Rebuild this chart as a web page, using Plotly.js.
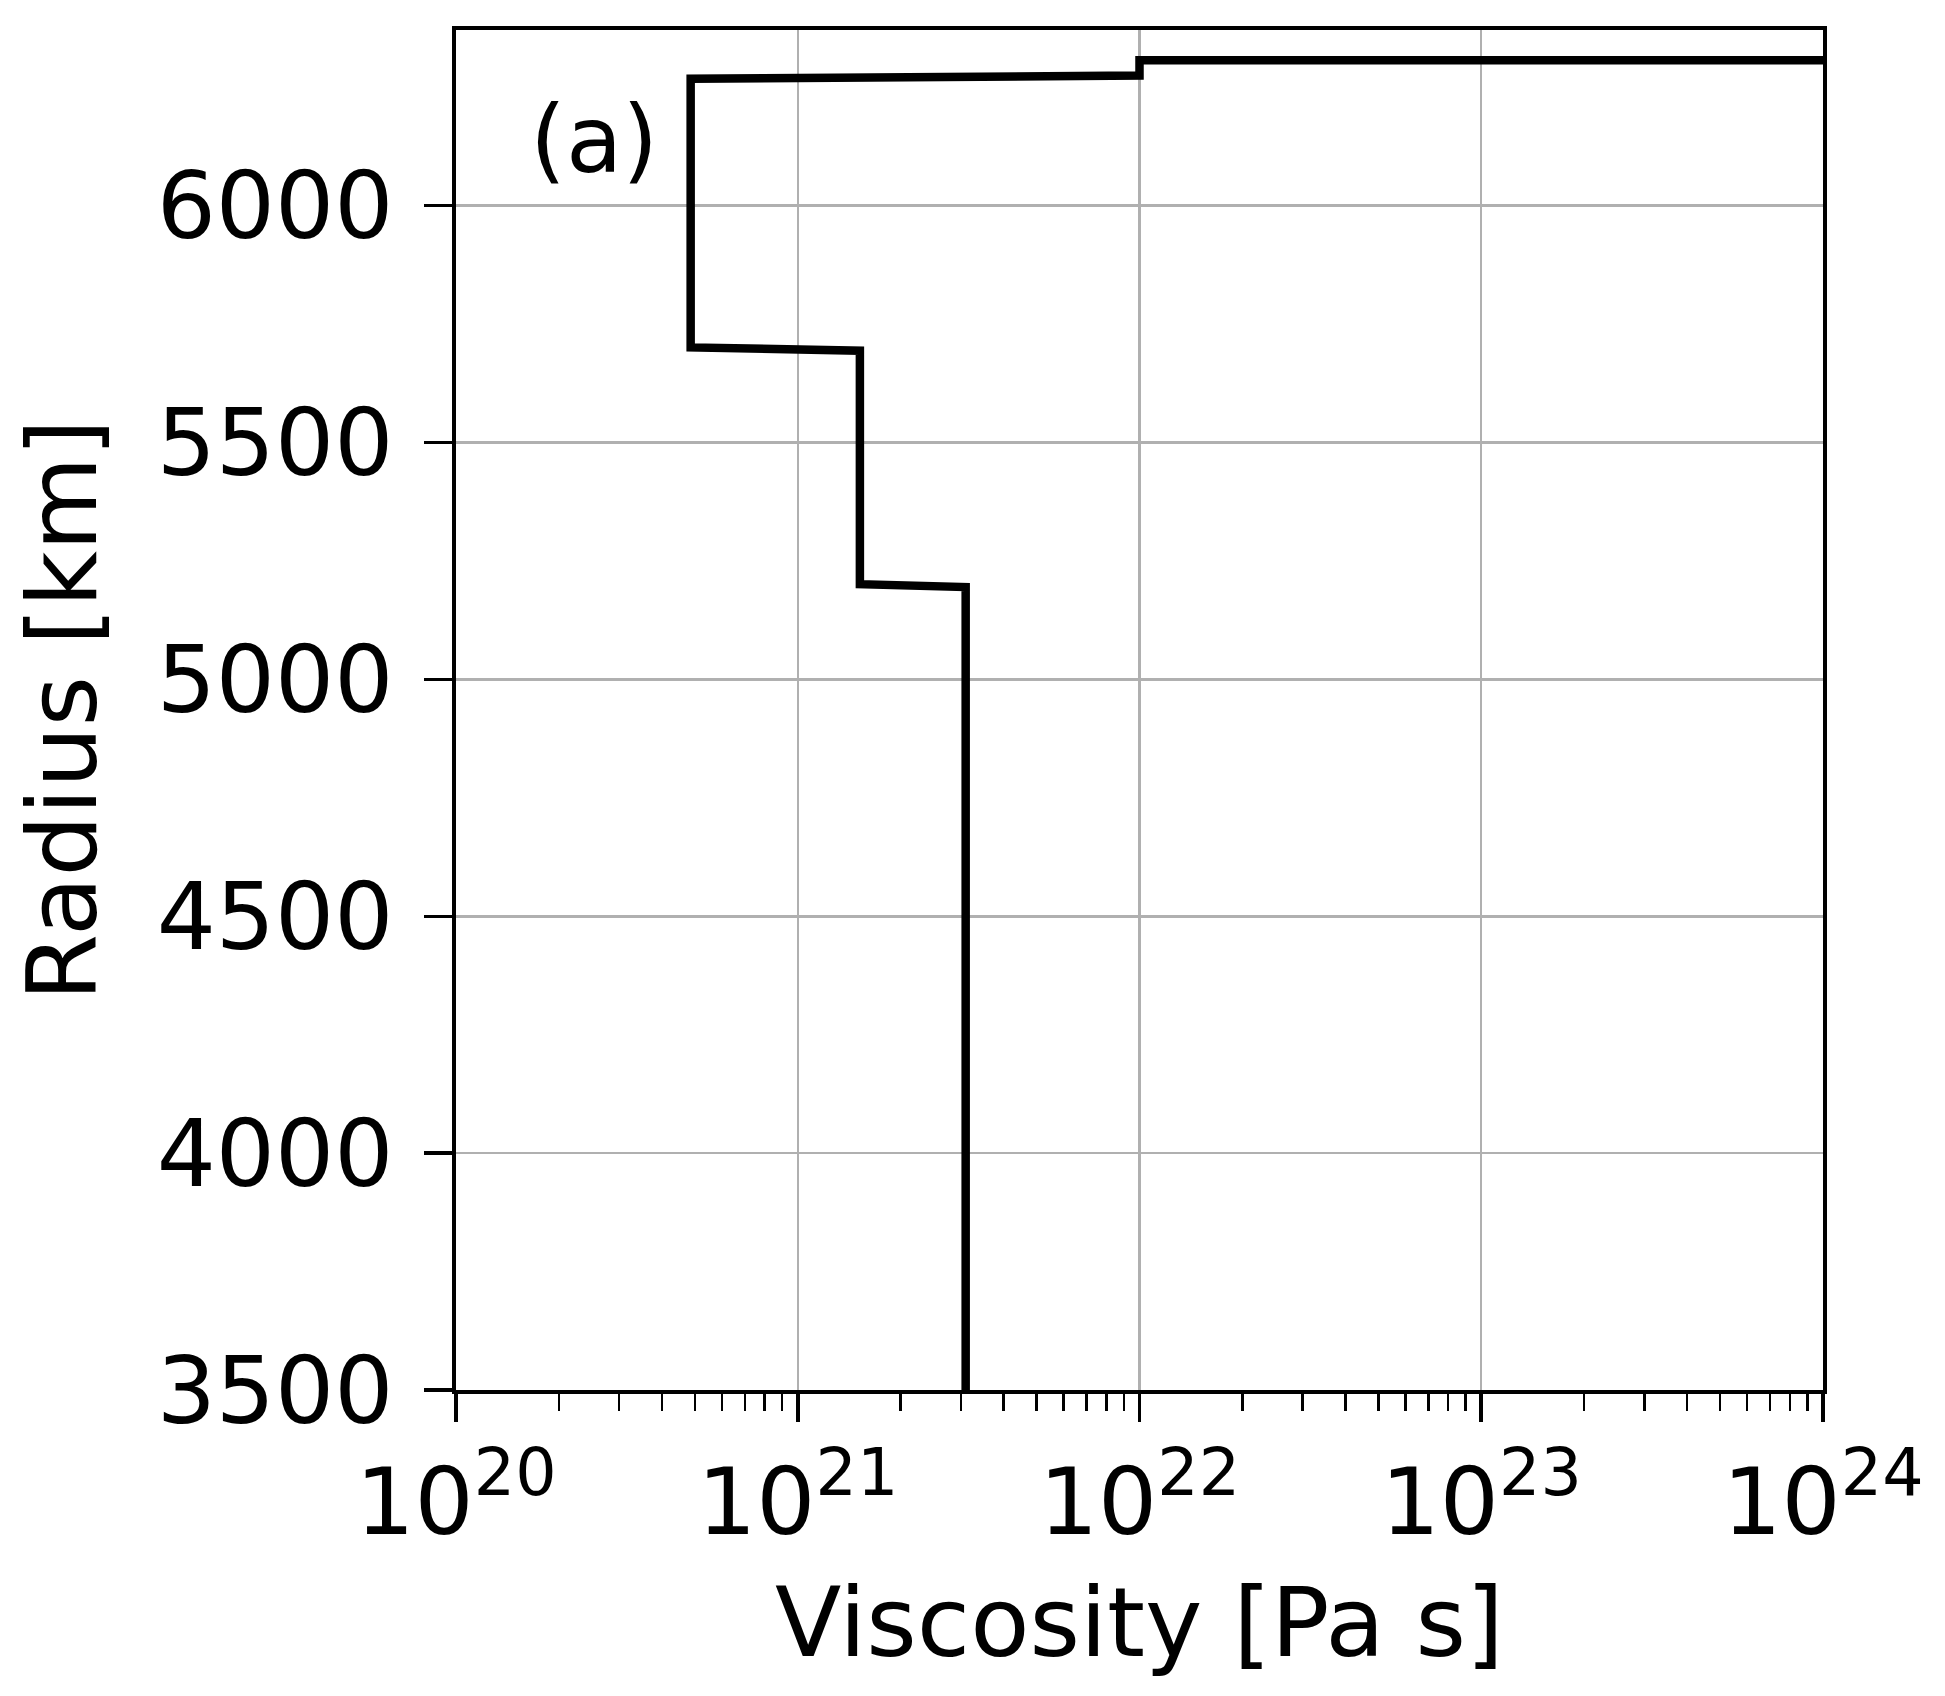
<!DOCTYPE html>
<html>
<head>
<meta charset="utf-8">
<script src="https://cdn.plot.ly/plotly-3.0.1.min.js"></script>
<style>html,body{margin:0;padding:0;background:#fff;}#chart{width:1945px;height:1696px;}</style>
</head>
<body>
<div id="chart"></div>
<script>
// Viscosity profile
const viscosity = [3.1e21, 3.1e21, 1.52e21, 1.52e21, 4.86e20, 4.86e20, 1.0e22, 1.0e22, 1.0e25];
const radius    = [3480,   5195,   5201,    5694,    5701,    6268,    6275,   6307,   6307];

const xTickVals = [1e20, 1e21, 1e22, 1e23, 1e24];
const xTickText = ["10<sup>20</sup>", "10<sup>21</sup>", "10<sup>22</sup>", "10<sup>23</sup>", "10<sup>24</sup>"];
const yTickVals = [3500, 4000, 4500, 5000, 5500, 6000];
const panelLabel = "(a)";

const font = "DejaVu Sans, Liberation Sans, sans-serif";

const trace = {
  x: viscosity,
  y: radius,
  type: "scatter",
  mode: "lines",
  line: {color: "#000000", width: 8.5},
  showlegend: false,
  hoverinfo: "skip"
};

const layout = {
  width: 1945,
  height: 1696,
  paper_bgcolor: "#ffffff",
  plot_bgcolor: "#ffffff",
  margin: {l: 456, r: 122, t: 30, b: 306, pad: 0},
  font: {family: font, color: "#000000", size: 92},
  showlegend: false,
  xaxis: {
    type: "log",
    range: [20, 24.00002],
    tickmode: "array",
    tickvals: xTickVals,
    ticktext: xTickText,
    tickfont: {family: font, size: 93, color: "#000"},
    ticks: "outside",
    ticklen: 28,
    tickwidth: 3.5,
    tickcolor: "#000",
    showgrid: true,
    gridcolor: "#b0b0b0",
    gridwidth: 2.5,
    showline: true,
    linecolor: "#000",
    linewidth: 4,
    mirror: true,
    zeroline: false,
    minor: {ticks: "outside", ticklen: 17, tickwidth: 2.5, tickcolor: "#000", dtick: "D1", showgrid: false},
    title: {text: "Viscosity [Pa s]", font: {family: font, size: 97, color: "#000"}, standoff: 35}
  },
  yaxis: {
    range: [3500, 6371],
    tickmode: "array",
    tickvals: yTickVals,
    tickfont: {family: font, size: 93, color: "#000"},
    ticks: "outside",
    ticklen: 28,
    tickwidth: 3.5,
    tickcolor: "#000",
    ticklabelstandoff: 12,
    showgrid: true,
    gridcolor: "#b0b0b0",
    gridwidth: 2.5,
    showline: true,
    linecolor: "#000",
    linewidth: 4,
    mirror: true,
    zeroline: false,
    title: {text: "Radius [km]", font: {family: font, size: 97, color: "#000"}, standoff: 29}
  },
  annotations: [{
    text: panelLabel,
    xref: "paper", yref: "paper",
    x: 0.101, y: 0.919,
    xanchor: "center", yanchor: "middle",
    showarrow: false,
    font: {family: font, size: 92, color: "#000"}
  }]
};

Plotly.newPlot("chart", [trace], layout, {staticPlot: true, displayModeBar: false});
</script>
</body>
</html>
